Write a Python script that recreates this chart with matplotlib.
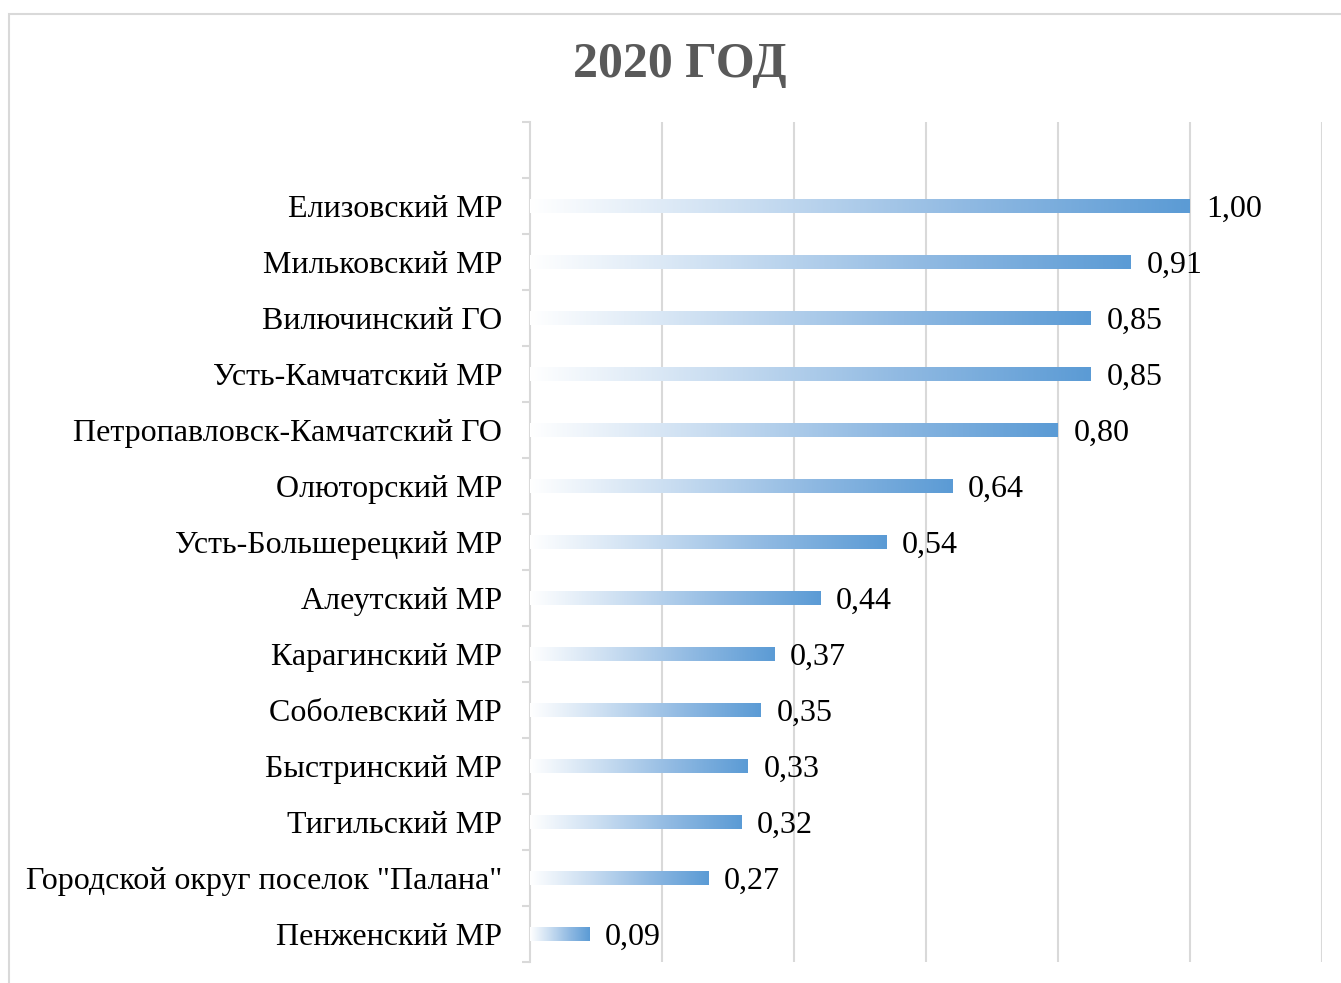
import numpy as np
import matplotlib.pyplot as plt
from matplotlib.colors import LinearSegmentedColormap
from matplotlib.patches import Rectangle

categories = ['Елизовский МР', 'Мильковский МР', 'Вилючинский ГО', 'Усть-Камчатский МР',
              'Петропавловск-Камчатский ГО', 'Олюторский МР', 'Усть-Большерецкий МР',
              'Алеутский МР', 'Карагинский МР', 'Соболевский МР', 'Быстринский МР',
              'Тигильский МР', 'Городской округ поселок "Палана"', 'Пенженский МР']
values = [1.00, 0.91, 0.85, 0.85, 0.80, 0.64, 0.54, 0.44, 0.37, 0.35, 0.33, 0.32, 0.27, 0.09]
title = '2020 ГОД'

plt.rcParams['font.family'] = ['Liberation Serif', 'DejaVu Serif']

fig = plt.figure(figsize=(13.41, 9.83), dpi=100)
W, H = 1341, 983
ax = fig.add_axes([530 / W, 1 - 962 / H, (1322 - 530) / W, (962 - 122) / H])

# frame around the chart
fig.patches.append(Rectangle((9 / W, -0.1), 1.2, 1 - 14 / H + 0.1, transform=fig.transFigure,
                             fill=False, edgecolor='#d9d9d9', linewidth=1.5))

cmap = LinearSegmentedColormap.from_list('bar', ['#ffffff', '#c9ddf1', '#8fb9e2', '#5b9bd5'])
grad = np.linspace(0, 1, 256).reshape(1, -1)
bh = 0.25
y = np.arange(len(categories))
for yi, v in zip(y, values):
    ax.imshow(grad, cmap=cmap, aspect='auto', extent=(0, v, yi + bh / 2, yi - bh / 2),
              interpolation='bilinear', zorder=3)
    ax.text(v + 0.024, yi + 0.06, f'{v:.2f}'.replace('.', ','), va='center', ha='left',
            fontsize=23, color='black', zorder=4)

ax.set_xlim(0, 1.2)
ax.set_ylim(13.5, -1.5)
ax.set_xticks(np.arange(0.2, 1.21, 0.2))
ax.tick_params(axis='x', length=0, labelbottom=False)
ax.grid(axis='x', color='#d9d9d9', linewidth=1.5, zorder=0)

ax.set_yticks(y)
ax.set_yticklabels(categories, fontsize=23)
ax.set_yticks(np.arange(-1.5, 13.6, 1), minor=True)
ax.tick_params(axis='y', which='major', length=0, pad=20)
ax.tick_params(axis='y', which='minor', length=6, width=1.5, color='#d9d9d9')

for s in ['top', 'right', 'bottom']:
    ax.spines[s].set_visible(False)
ax.spines['left'].set_color('#d9d9d9')
ax.spines['left'].set_linewidth(1.5)

fig.text(680 / W, 1 - 65 / H, title, ha='center', va='center', fontsize=36,
         fontweight='bold', color='#595959')

fig.savefig('out.png', dpi=100)
